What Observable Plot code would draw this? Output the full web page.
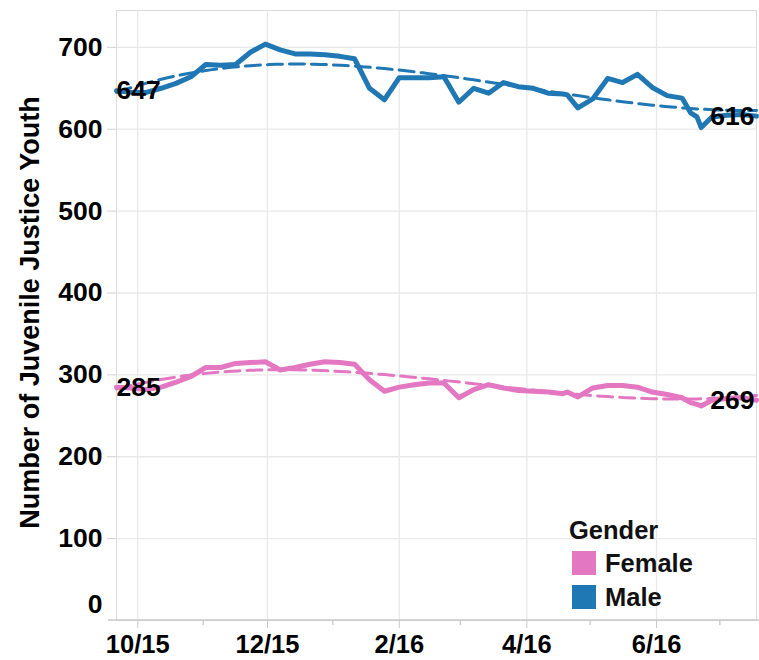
<!DOCTYPE html>
<html>
<head>
<meta charset="utf-8">
<script src="https://cdn.jsdelivr.net/npm/d3@7"></script>
<script src="https://cdn.jsdelivr.net/npm/@observablehq/plot@0.6"></script>
<style>
  html, body { margin: 0; padding: 0; background: #fff; }
  #wrap { position: relative; width: 759px; height: 660px; font-family: "Liberation Sans", Arial, sans-serif; }
  #legend { position: absolute; left: 569px; top: 514px; font-weight: bold; color: #111; }
  #legend .title { font-size: 25.5px; line-height: 32px; }
  #legend .item { display: flex; align-items: center; font-size: 25.5px; height: 34px; }
  #legend .sw { width: 24px; height: 24px; margin: 0 9px 0 3px; }
</style>
</head>
<body>
<div id="wrap"></div>
<script>
// ---- data ----
const dates = [
  "2015-09-21","2015-09-28","2015-10-05","2015-10-12","2015-10-19","2015-10-26",
  "2015-11-02","2015-11-09","2015-11-16","2015-11-23","2015-11-30",
  "2015-12-07","2015-12-14","2015-12-21","2015-12-28",
  "2016-01-04","2016-01-11","2016-01-18","2016-01-25",
  "2016-02-01","2016-02-08","2016-02-15","2016-02-22","2016-02-29",
  "2016-03-07","2016-03-14","2016-03-21","2016-03-28",
  "2016-04-04","2016-04-11","2016-04-18","2016-04-20","2016-04-25",
  "2016-05-02","2016-05-09","2016-05-16","2016-05-23","2016-05-30",
  "2016-06-06","2016-06-13","2016-06-17","2016-06-20","2016-06-22","2016-06-27",
  "2016-07-04","2016-07-11","2016-07-18"
];
const male = [
  647, 645, 645, 650, 656, 664,
  679, 678, 679, 694, 704,
  697, 692, 692, 691,
  689, 686, 650, 636,
  663, 663, 663, 664, 633,
  650, 644, 657, 652,
  650, 644, 643, 642, 626,
  637, 662, 657, 667, 651,
  641, 638, 620, 615, 602, 615,
  617, 618, 616
];
const female = [
  285, 284, 282, 285, 291, 298,
  309, 309, 314, 315, 316,
  306, 309, 313, 316,
  315, 313, 294, 280,
  285, 288, 290, 290, 272,
  282, 288, 284, 281,
  280, 279, 277, 279, 273,
  284, 287, 287, 285, 279,
  276, 272, 266, 264, 262, 269,
  271, 272, 269
];
const genders = ["Female", "Male"];
const colors = ["#e377c2", "#1f77b4"];
const yTicks = [100, 200, 300, 400, 500, 600, 700];
const majorTicks = ["2015-10-01","2015-12-01","2016-02-01","2016-04-01","2016-06-01"];
const majorLabels = ["10/15","12/15","2/16","4/16","6/16"];
const minorTicks = ["2015-11-01","2016-01-01","2016-03-01","2016-05-01","2016-07-01"];
const xDomain = ["2015-09-21", "2016-07-18"];
const yDomain = [0, 745];
const yTitle = "Number of Juvenile Justice Youth";

// ---- build tables ----
const parse = d3.utcParse("%Y-%m-%d");
const fmt = d3.utcFormat("%Y-%m-%d");
const rows = [];
dates.forEach((d, i) => {
  rows.push({date: parse(d), value: female[i], gender: "Female"});
  rows.push({date: parse(d), value: male[i], gender: "Male"});
});

// cubic polynomial least-squares trend (degree-3 polynomial trend line)
function polyFit(xs, ys, deg) {
  const n = deg + 1;
  const A = Array.from({length: n}, () => new Array(n + 1).fill(0));
  xs.forEach((x, k) => {
    for (let i = 0; i < n; i++) {
      for (let j = 0; j < n; j++) A[i][j] += Math.pow(x, i + j);
      A[i][n] += ys[k] * Math.pow(x, i);
    }
  });
  for (let c = 0; c < n; c++) {
    let p = c;
    for (let r = c + 1; r < n; r++) if (Math.abs(A[r][c]) > Math.abs(A[p][c])) p = r;
    [A[c], A[p]] = [A[p], A[c]];
    for (let r = 0; r < n; r++) {
      if (r === c) continue;
      const f = A[r][c] / A[c][c];
      for (let k = c; k <= n; k++) A[r][k] -= f * A[c][k];
    }
  }
  return A.map((row, i) => row[n] / row[i]);
}
const d0 = parse(dates[0]), d1 = parse(dates[dates.length - 1]);
const t0 = d0.getTime(), span = d1.getTime() - t0;
const norm = (d) => (d.getTime() - t0) / span;
const trend = [];
[["Female", female], ["Male", male]].forEach(([g, vals]) => {
  const coef = polyFit(dates.map(d => norm(parse(d))), vals, 3);
  for (const dt of d3.utcDay.range(d0, d1, 3).concat([d1])) {
    const x = norm(dt);
    trend.push({date: dt, value: coef.reduce((s, c, i) => s + c * Math.pow(x, i), 0), gender: g});
  }
});

const firsts = [], lasts = [];
[["Female", female], ["Male", male]].forEach(([g, vals]) => {
  firsts.push({date: d0, value: vals[0], gender: g});
  lasts.push({date: d1, value: vals[vals.length - 1], gender: g});
});

const font = "Liberation Sans, Arial, sans-serif";
const FS = 26.5;
const chart = Plot.plot({
  width: 759,
  height: 660,
  marginLeft: 116,
  marginRight: 3,
  marginTop: 10,
  marginBottom: 40,
  style: {fontFamily: font, fontWeight: "bold", color: "#000", background: "#fff"},
  x: {type: "utc", domain: xDomain.map(parse)},
  y: {domain: yDomain},
  color: {domain: genders, range: colors},
  marks: [
    Plot.gridY(yTicks, {stroke: "#e8e8e8", strokeOpacity: 1, strokeWidth: 1.3}),
    Plot.gridX(majorTicks.map(parse), {stroke: "#e8e8e8", strokeOpacity: 1, strokeWidth: 1.3}),
    Plot.frame({stroke: "#dcdcdc"}),
    Plot.axisY(yTicks, {tickSize: 9, tickPadding: 5, fontSize: FS, stroke: "#d0d0d0", label: null}),
    Plot.axisY([0], {tickSize: 0, tickPadding: 14, fontSize: FS, dy: -16, label: null}),
    Plot.axisX(majorTicks.map(parse), {tickSize: 8, tickPadding: 6, fontSize: 25.5, stroke: "#c8c8c8",
      tickFormat: (d) => majorLabels[majorTicks.indexOf(fmt(d))], label: null}),
    Plot.text([yTitle], {frameAnchor: "left", textAnchor: "middle", rotate: -90, dx: -86, dy: -3,
      fontSize: 27, fontWeight: "bold", fill: "#000"}),
    Plot.line(trend, {x: "date", y: "value", stroke: "gender", strokeWidth: 3, strokeDasharray: "15,7"}),
    Plot.line(rows, {x: "date", y: "value", stroke: "gender", strokeWidth: 5, strokeLinejoin: "round"}),
    Plot.text(firsts, {x: "date", y: "value", text: d => String(d.value),
      textAnchor: "start", dx: 0, fontSize: FS, fontWeight: "bold", fill: "#000"}),
    Plot.text(lasts, {x: "date", y: "value", text: d => String(d.value),
      textAnchor: "end", dx: -2, fontSize: FS, fontWeight: "bold", fill: "#000"})
  ]
});
const wrap = document.getElementById("wrap");
wrap.appendChild(chart);

// bottom axis line (extends slightly left) and minor month ticks, placed with Plot's own scales
const xs = chart.scale("x"), ys = chart.scale("y");
const y0 = ys.apply(0);
const svg = d3.select(chart);
svg.append("line")
  .attr("x1", 108).attr("x2", 759).attr("y1", y0).attr("y2", y0)
  .attr("stroke", "#c8c8c8").attr("stroke-width", 1.5);
svg.selectAll("line.minor").data(minorTicks.map(parse)).join("line")
  .attr("class", "minor")
  .attr("x1", d => xs.apply(d)).attr("x2", d => xs.apply(d))
  .attr("y1", y0).attr("y2", y0 + 5)
  .attr("stroke", "#c8c8c8").attr("stroke-width", 1.3);

// legend
const legend = document.createElement("div");
legend.id = "legend";
legend.innerHTML = `<div class="title">Gender</div>` +
  genders.map((g, i) => `<div class="item"><div class="sw" style="background:${colors[i]}"></div>${g}</div>`).join("");
wrap.appendChild(legend);
</script>
</body>
</html>
